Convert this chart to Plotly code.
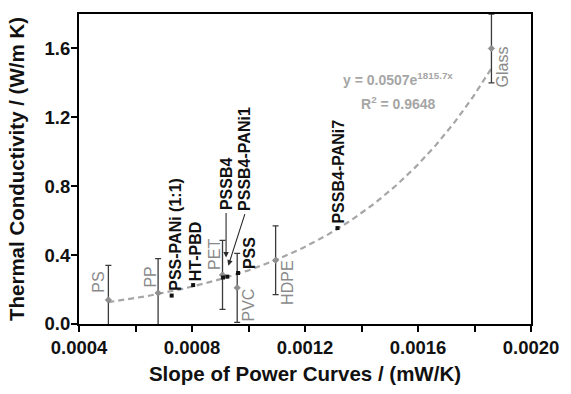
import numpy as np
import plotly.graph_objects as go

# Reference polymers (grey diamonds with error bars)
ref_names = ["PS", "PP", "PET", "PVC", "HDPE", "Glass"]
ref_slope = [0.000504, 0.00068, 0.000908, 0.00096, 0.001096, 0.00186]
ref_k = [0.14, 0.18, 0.285, 0.21, 0.37, 1.60]
ref_err = [0.2, 0.2, 0.2, 0.2, 0.2, 0.2]

# Measured samples (small black squares)
smp_names = ["PSS-PANi (1:1)", "HT-PBD", "PSSB4", "PSSB4-PANi1", "PSS", "PSSB4-PANi7"]
smp_slope = [0.000728, 0.000804, 0.00091, 0.000925, 0.000963, 0.001315]
smp_k = [0.165, 0.226, 0.27, 0.275, 0.296, 0.557]

# Exponential fit y = A*exp(B*x)
fit_A = 0.0507
fit_B = 1815.7
fit_R2 = 0.9648

x_ticks = [0.0004, 0.0008, 0.0012, 0.0016, 0.0020]
y_ticks = [0.0, 0.4, 0.8, 1.2, 1.6]

FONT = "Liberation Sans, Arial, sans-serif"
GREY_LABEL = "#8a8a8a"
GREY_FIT = "#a6a6a6"

fig = go.Figure()

# fitted curve over the span of the reference data
xf = np.linspace(min(ref_slope), max(ref_slope), 200)
fig.add_trace(go.Scatter(
    x=xf, y=fit_A * np.exp(fit_B * xf), mode="lines",
    line=dict(color=GREY_FIT, width=2.2, dash="6px,4px"),
    hoverinfo="skip", showlegend=False))

fig.add_trace(go.Scatter(
    x=ref_slope, y=ref_k, mode="markers",
    marker=dict(symbol="diamond", size=5, color="#8f8f8f",
                line=dict(color="#7a7a7a", width=0.5)),
    error_y=dict(type="data", array=ref_err, color="#3a3a3a",
                 thickness=1.3, width=3),
    showlegend=False))

fig.add_trace(go.Scatter(
    x=smp_slope, y=smp_k, mode="markers",
    marker=dict(symbol="square", size=4, color="#111111"),
    showlegend=False))

# label placement: pixel offsets of each label's bottom-centre from its point
ref_label_shift = {
    "PS": (-10, 6), "PP": (-8, 4), "PET": (-8, 4),
    "PVC": (11, -35), "HDPE": (12, -46), "Glass": (11, -40),
}
smp_label_shift = {
    "PSS-PANi (1:1)": (3, 4), "HT-PBD": (2, 3), "PSSB4": (3, 66),
    "PSSB4-PANi1": (17, 65), "PSS": (11, 3), "PSSB4-PANi7": (1, 4),
}
# arrows: (head shift from point, tail offset from head) in pixels
arrow_geom = {
    "PSSB4": ((3, 20), (0, -46)),
    "PSSB4-PANi1": ((1, 11), (17, -53)),
}

annotations = []
for n, x, y in zip(ref_names, ref_slope, ref_k):
    dx, dy = ref_label_shift[n]
    annotations.append(dict(
        x=x, y=y, xref="x", yref="y", text=n, showarrow=False,
        textangle=-90, xanchor="center", yanchor="bottom",
        xshift=dx, yshift=dy, borderpad=0,
        font=dict(family=FONT, size=16, color=GREY_LABEL)))

for n, x, y in zip(smp_names, smp_slope, smp_k):
    dx, dy = smp_label_shift[n]
    annotations.append(dict(
        x=x, y=y, xref="x", yref="y", text=n, showarrow=False,
        textangle=-90, xanchor="center", yanchor="bottom",
        xshift=dx, yshift=dy, borderpad=0,
        font=dict(family=FONT, size=16, color="#111111", weight="bold")))
    if n in arrow_geom:
        (hx, hy), (tx, ty) = arrow_geom[n]
        annotations.append(dict(
            x=x, y=y, xref="x", yref="y", text="", showarrow=True,
            xshift=hx, yshift=hy, ax=tx, ay=ty,
            arrowhead=2, arrowsize=1, arrowwidth=1.1,
            arrowcolor="#2a2a2a", standoff=0, startstandoff=0))

annotations.append(dict(
    x=0.00153, y=1.42, xref="x", yref="y", showarrow=False,
    text=f"y = {fit_A:.4f}e<sup>{fit_B:.1f}x</sup>",
    font=dict(family=FONT, size=14, color=GREY_FIT, weight="bold")))
annotations.append(dict(
    x=0.00153, y=1.285, xref="x", yref="y", showarrow=False,
    text=f"R<sup>2</sup> = {fit_R2:.4f}",
    font=dict(family=FONT, size=14, color=GREY_FIT, weight="bold")))

axis_common = dict(
    showline=True, linecolor="black", linewidth=2, mirror=True,
    ticks="outside", ticklen=6, tickwidth=1.5, tickcolor="black",
    showgrid=False, zeroline=False,
    tickfont=dict(family=FONT, size=18.5, color="#111111", weight="bold"),
)

fig.update_layout(
    width=571, height=394,
    margin=dict(l=79, r=30, t=13, b=61),
    paper_bgcolor="white", plot_bgcolor="white",
    annotations=annotations,
    xaxis=dict(
        range=[0.0004, 0.0020], tickmode="array", tickvals=x_ticks,
        ticktext=[f"{v:.4f}" for v in x_ticks],
        minor=dict(dtick=0.0002, tick0=0.0004, ticks="outside",
                   ticklen=6, tickwidth=1.5, tickcolor="black"),
        title=dict(text="Slope of Power Curves / (mW/K)", standoff=9,
                   font=dict(family=FONT, size=20.5, color="#111111", weight="bold")),
        **axis_common),
    yaxis=dict(
        range=[0, 1.8], tickmode="array", tickvals=y_ticks,
        ticktext=[f"{v:.1f}" for v in y_ticks],
        ticklabelstandoff=-3,
        title=dict(text="Thermal Conductivity / (W/m K)", standoff=14,
                   font=dict(family=FONT, size=20.5, color="#111111", weight="bold")),
        **axis_common),
)

fig.write_html("out.html")
